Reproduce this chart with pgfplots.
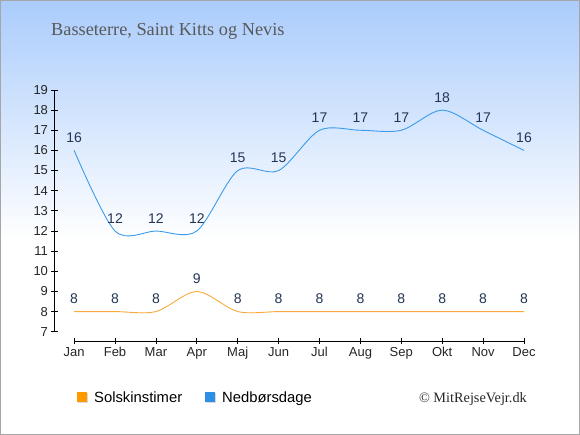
\documentclass[border=0pt]{standalone}
\usepackage{pgfplots}
\pgfplotsset{compat=1.18}
\usepackage{fontspec}
\setmainfont{Liberation Sans}
\newfontfamily\seriffont{Liberation Serif}
\definecolor{topblue}{RGB}{170,204,252}
\definecolor{sunorange}{RGB}{250,170,60}
\definecolor{rainblue}{RGB}{60,155,235}
\definecolor{legorange}{RGB}{255,153,0}
\definecolor{legblue}{RGB}{45,143,230}
\definecolor{labnavy}{RGB}{36,52,84}
\begin{document}
\begin{tikzpicture}[x=1pt,y=1pt]
\fill[white] (0,0) rectangle (580,435);
\shade[top color=topblue,bottom color=white] (0,195) rectangle (580,435);
\draw[gray!70,line width=1pt] (0.5,0.5) rectangle (579.5,434.5);
\node[anchor=base west,text=black!65,font=\seriffont\fontsize{18.3}{21}\selectfont,inner sep=0pt] at (51,399) {Basseterre, Saint Kitts og Nevis};
\begin{axis}[
  at={(54.5pt,94pt)}, anchor=south west,
  scale only axis, width=469.5pt, height=251pt,
  xmin=-0.48, xmax=11, ymin=6.54, ymax=19,
  axis line style={draw=none},
  xtick={0,...,11},
  xticklabels={Jan,Feb,Mar,Apr,Maj,Jun,Jul,Aug,Sep,Okt,Nov,Dec},
  ytick={7,...,19},
  xtick pos=bottom, ytick pos=left,
  tick align=center, major tick length=6pt,
  tick style={black,line width=0.8pt},
  ticklabel style={font=\fontsize{13}{15}\selectfont,text=black!85},
  /pgf/number format/assume math mode=true,
  clip=false,
  nodes near coords,
  every node near coord/.append style={font=\fontsize{14}{16}\selectfont,text=labnavy,anchor=south,yshift=4pt},
]
\draw[black,line width=0.8pt] (axis cs:-0.48,7) -- (axis cs:-0.48,19);
\draw[black,line width=0.8pt] (axis cs:0,6.54) -- (axis cs:11,6.54);
\addplot[sunorange,line width=0.9pt,smooth,tension=0.5,no marks] coordinates {
(0,8) (1,8) (2,8) (3,9) (4,8) (5,8) (6,8) (7,8) (8,8) (9,8) (10,8) (11,8)};
\addplot[rainblue,line width=0.9pt,smooth,tension=0.5,no marks] coordinates {
(0,16) (1,12) (2,12) (3,12) (4,15) (5,15) (6,17) (7,17) (8,17) (9,18) (10,17) (11,16)};
\end{axis}
\fill[black!15] (78,32) rectangle (88,42);
\fill[legorange] (77,33) rectangle (87,43);
\node[anchor=base west,font=\fontsize{14.8}{17}\selectfont,inner sep=0pt] at (94,32.5) {Solskinstimer};
\fill[black!15] (206,32) rectangle (216,42);
\fill[legblue] (205,33) rectangle (215,43);
\node[anchor=base west,font=\fontsize{14.8}{17}\selectfont,inner sep=0pt] at (222,32.5) {Nedbørsdage};
\node[anchor=base east,font=\seriffont\fontsize{14.3}{17}\selectfont,inner sep=0pt,text=black!85] at (527,32.5) {© MitRejseVejr.dk};
\end{tikzpicture}
\end{document}
